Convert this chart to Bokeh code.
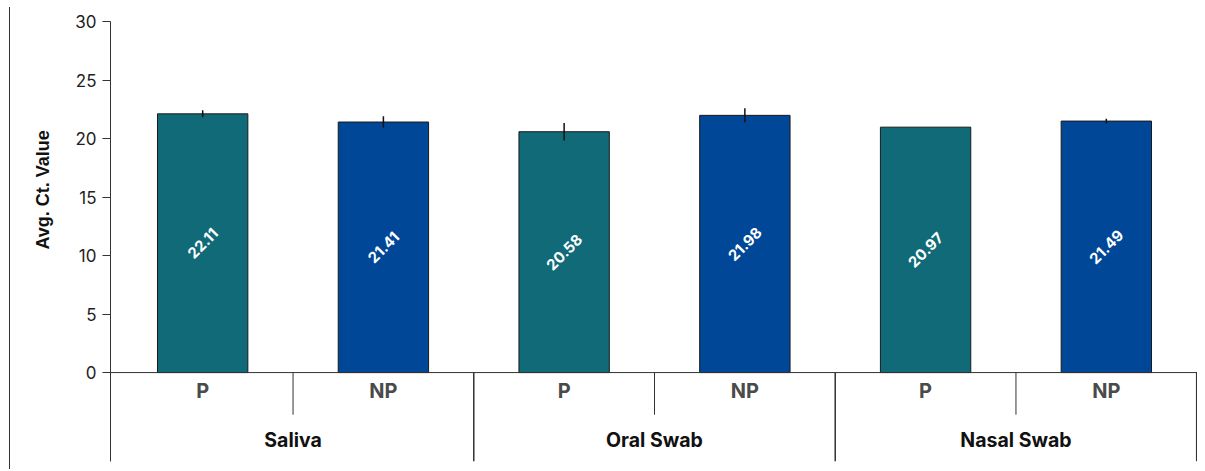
import math
from bokeh.plotting import figure
from bokeh.models import FactorRange, ColumnDataSource, FixedTicker, Span, Range1d, Title
from bokeh.core.properties import value
from bokeh.embed import file_html
from bokeh.resources import INLINE

groups = ["Saliva", "Oral Swab", "Nasal Swab"]
subgroups = ["P", "NP"]
p_values = [22.11, 20.58, 20.97]
np_values = [21.41, 21.98, 21.49]
p_errors = [0.30, 0.75, 0.0]
np_errors = [0.50, 0.60, 0.20]
y_ticks = [0, 5, 10, 15, 20, 25, 30]
y_title = "Avg. Ct. Value"
bar_colors = {"P": "#116A78", "NP": "#004797"}

FONT = "Inter"

factors, vals, errs, cols = [], [], [], []
for i, g in enumerate(groups):
    for s, v, e in (("P", p_values[i], p_errors[i]), ("NP", np_values[i], np_errors[i])):
        factors.append((g, s))
        vals.append(v)
        errs.append(e)
        cols.append(bar_colors[s])

src = ColumnDataSource(dict(
    x=factors, top=vals,
    lo=[v - e for v, e in zip(vals, errs)],
    hi=[v + e for v, e in zip(vals, errs)],
    mid=[v / 2 for v in vals],
    label=[f"{v:.2f}" for v in vals],
    color=cols,
))

x_range = FactorRange(*factors, factor_padding=0, group_padding=0,
                      range_padding=0.01, range_padding_units="absolute")
y_bottom = -7.6
y_range = Range1d(y_bottom, 30)

p = figure(x_range=x_range, y_range=y_range, width=1188, height=462,
           output_backend="svg", toolbar_location=None,
           min_border_left=100, min_border_right=0, min_border_top=14, min_border_bottom=8)
p.styles = {"border-left": "1px solid #333", "margin-left": "9px", "margin-top": "7px"}
p.xaxis.visible = False
p.xgrid.visible = False
p.ygrid.visible = False
p.outline_line_color = None

yax = p.yaxis[0]
yax.ticker = FixedTicker(ticks=y_ticks, minor_ticks=[])
yax.major_tick_out = 8
yax.major_tick_in = 0
yax.minor_tick_out = 0
yax.minor_tick_in = 0
yax.axis_line_color = "#333333"
yax.major_tick_line_color = "#333333"
yax.major_label_text_font = FONT
yax.major_label_text_font_size = "17px"
yax.major_label_text_color = "#222222"
yax.major_label_standoff = 6

# bars
p.vbar(x="x", top="top", width=0.5, bottom=0, source=src, fill_color="color",
       line_color="#1a1a1a", line_width=1)
# error bars
p.segment(x0="x", x1="x", y0="lo", y1="hi", source=src, line_color="#111111", line_width=1.5)
# value labels
p.text(x="x", y="mid", text="label", source=src, angle=math.pi / 4,
       text_align="center", text_baseline="middle", text_color="white",
       text_font=value(FONT), text_font_style="bold", text_font_size="15px")

# x axis line at zero
p.add_layout(Span(location=0, dimension="width", line_color="#333333", line_width=1))

# separators
n = len(factors)
sub_sep_x = [i for i in range(1, n + 1) if i % len(subgroups) != 0]
grp_sep_x = [i for i in range(1, n + 1) if i % len(subgroups) == 0]
p.segment(x0=sub_sep_x, x1=sub_sep_x, y0=[0] * len(sub_sep_x), y1=[-3.6] * len(sub_sep_x),
          line_color="#333333", line_width=1)
p.segment(x0=grp_sep_x, x1=grp_sep_x, y0=[0] * len(grp_sep_x), y1=[y_bottom] * len(grp_sep_x),
          line_color="#333333", line_width=1.5)

# category labels
sub_src = ColumnDataSource(dict(x=factors, y=[-1.55] * n, t=[f[1] for f in factors]))
p.text(x="x", y="y", text="t", source=sub_src, text_align="center", text_baseline="middle",
       text_color="#4a4a4a", text_font=value(FONT), text_font_style="bold", text_font_size="20px")
grp_src = ColumnDataSource(dict(x=groups, y=[-5.8] * len(groups), t=groups))
p.text(x="x", y="y", text="t", source=grp_src, text_align="center", text_baseline="middle",
       text_color="#111111", text_font=value(FONT), text_font_style="bold", text_font_size="19.5px")

# y title
p.add_layout(Title(text=y_title, align="left", offset=212, standoff=40,
                   text_font="Liberation Sans", text_font_style="bold",
                   text_font_size="18px", text_color="#111111"), "left")

open("out.html", "w").write(file_html(p, INLINE))
